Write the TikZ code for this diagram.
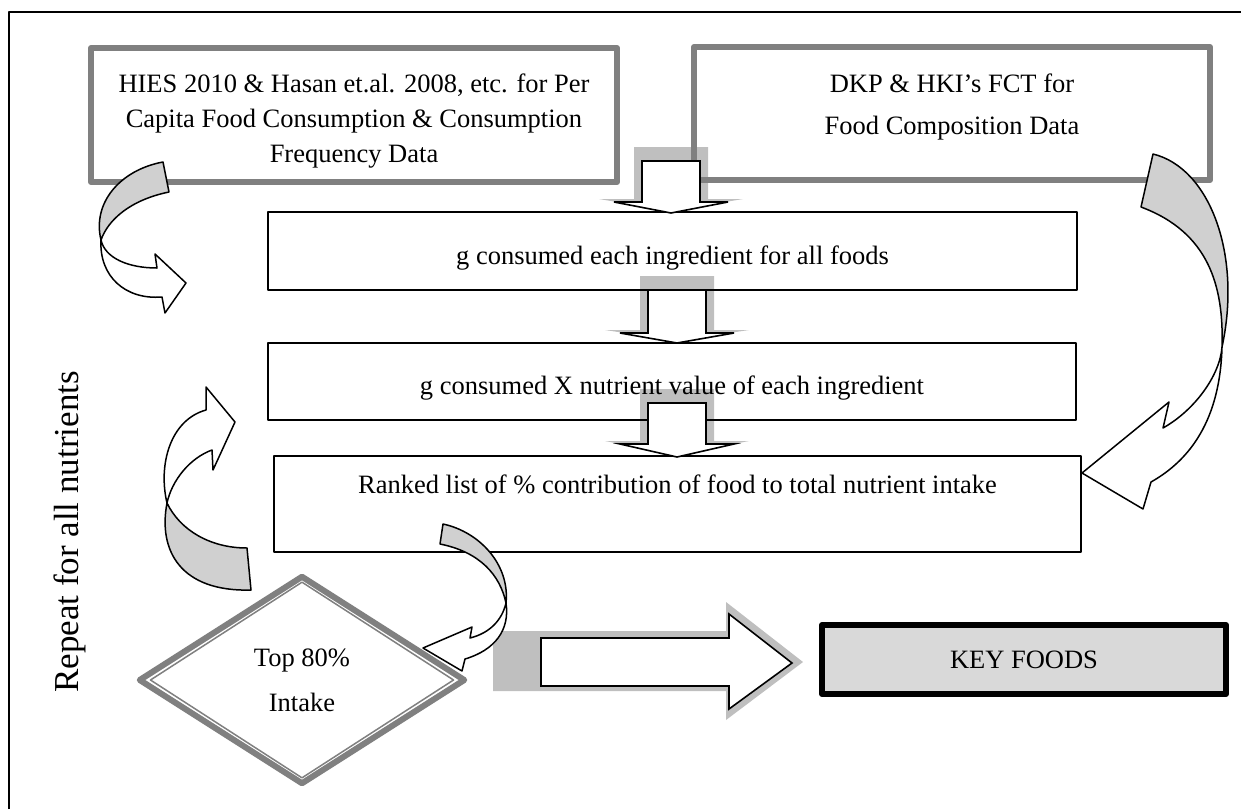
\documentclass[tikz,border=0pt]{standalone}
\usepackage{fontspec}
\setmainfont{Liberation Serif}
\usetikzlibrary{calc, shapes.geometric, backgrounds}
\definecolor{srcgray}{HTML}{808080}
\definecolor{shadegray}{HTML}{BFBFBF}
\definecolor{ribbongray}{HTML}{D0D0D0}
\definecolor{keyfill}{HTML}{D9D9D9}
\newcommand\txt{\fontsize{26.5}{35}\selectfont}
\tikzset{
  every picture/.style={line join=round},
  srcbox/.style={draw=srcgray, line width=6pt, align=center, inner sep=0pt, font=\txt},
  stepbox/.style={draw, line width=1.8pt, inner sep=0pt, font=\txt},
  decision/.style={diamond, draw=srcgray, line width=6pt, fill=white, align=center, inner sep=0pt,
    font=\fontsize{26.5}{45}\selectfont},
  keybox/.style={draw, line width=6pt, fill=keyfill, inner sep=0pt, font=\txt},
  shadefill/.style={fill=shadegray},
  blockarrow/.style={draw, line width=1.6pt, fill=white, line join=miter},
  ribbonback/.style={draw, line width=1.5pt, fill=ribbongray},
  ribbonfront/.style={draw, line width=1.5pt, fill=white},
}
% down block arrow: centre x, top of shaft, head base, tip
\newcommand\shadedown[4]{\fill[shadefill] (#1-37,#2-14) -- (#1+37,#2-14) -- (#1+37,#3-3) -- (#1+72,#3-3)
  -- (#1,#4-2) -- (#1-72,#3-3) -- (#1-37,#3-3) -- cycle;}
\newcommand\blockdown[4]{\draw[blockarrow] (#1-29,#2) -- (#1+29,#2) -- (#1+29,#3) -- (#1+57,#3)
  -- (#1,#4) -- (#1-57,#3) -- (#1-29,#3) -- cycle;}

\begin{document}
\begin{tikzpicture}[x=1pt, y=-1pt]
  \useasboundingbox (0,0) rectangle (1241,809);
  % ---------------- shadows
  \begin{scope}[on background layer]
    \shadedown{671}{161}{202}{213}
    \shadedown{677}{290}{333}{343}
    \shadedown{677}{403}{444}{457}
    \fill[shadefill] (493,631) -- (726,631) -- (726,602) -- (803,662) -- (726,720) -- (726,691) -- (493,691) -- cycle;
  \end{scope}
  % ---------------- frame
  \draw[line width=2pt] (9,809) -- (9,12) -- (1241,12);
  % ---------------- data sources and steps
  \node[srcbox, minimum width=526pt, minimum height=134pt, text height=100pt] (hies) at (354,115)
    {HIES 2010 \& Hasan et.al. 2008, etc. for Per\\Capita Food Consumption \& Consumption\\Frequency Data};
  \node[srcbox, minimum width=516pt, minimum height=133pt, text depth=18pt,
    font=\fontsize{26.5}{42}\selectfont] (dkp) at (952,113.5)
    {DKP \& HKI's FCT for\\Food Composition Data};
  \node[stepbox, minimum width=809pt, minimum height=78pt, text height=32pt] (cons) at (672.5,251)
    {g consumed each ingredient for all foods};
  \node[stepbox, minimum width=808pt, minimum height=77pt, text height=32pt] (nutr) at (672,381.5)
    {g consumed X nutrient value of each ingredient};
  \node[stepbox, minimum width=807pt, minimum height=96pt, text depth=40pt] (rank) at (677.5,504)
    {Ranked list of \% contribution of food to total nutrient intake};
  % ---------------- down arrows
  \blockdown{671}{161}{202}{213}
  \blockdown{677}{290}{333}{343}
  \blockdown{677}{403}{444}{457}
  % ---------------- curved arrows
  \draw[ribbonback] (163,162) .. controls (120,170) and (92,203) .. (101,240)
    .. controls (108,220) and (130,200) .. (169,192) -- cycle;
  \draw[ribbonfront] (101,240) .. controls (105,258) and (128,268) .. (157,268) -- (155,254) -- (186,283)
    -- (165,313) -- (162,297) .. controls (125,300) and (99,276) .. (101,240) -- cycle;
  \draw[ribbonback] (1153,154) .. controls (1210,168) and (1242,255) .. (1222,347)
    .. controls (1224,285) and (1208,232) .. (1141,207) -- cycle;
  \draw[ribbonfront] (1222,347) .. controls (1220,375) and (1195,410) .. (1163,428) -- (1169,402) -- (1082,473)
    -- (1143,509) -- (1151,482) .. controls (1190,460) and (1220,420) .. (1222,347) -- cycle;
  \draw[ribbonback] (247,548) .. controls (210,548) and (180,530) .. (167,503)
    .. controls (158,550) and (180,592) .. (251,590) -- cycle;
  \draw[ribbonfront] (167,503) .. controls (158,465) and (170,420) .. (206,410) -- (206,387) -- (235,422)
    -- (213,470) -- (212,450) .. controls (190,458) and (172,480) .. (167,503) -- cycle;
  \draw[ribbonback] (443,524) .. controls (480,532) and (510,565) .. (506,603)
    .. controls (500,575) and (480,552) .. (440,544) -- cycle;
  \draw[ribbonfront] (506,603) .. controls (502,620) and (490,633) .. (470,638) -- (472,627) -- (423,648)
    -- (462,671) -- (465,659) .. controls (495,650) and (510,630) .. (506,603) -- cycle;
  % ---------------- decision and result
  \node[decision, minimum width=327pt, minimum height=209pt] (top) at (302,680) {Top 80\%\\Intake};
  \draw[srcgray, line width=1.5pt] ($(top.center)!0.91!(top.north)$) -- ($(top.center)!0.91!(top.east)$)
    -- ($(top.center)!0.91!(top.south)$) -- ($(top.center)!0.91!(top.west)$) -- cycle;
  \draw[blockarrow] (541,638) -- (729,638) -- (729,614) -- (792,663) -- (729,709) -- (729,686) -- (541,686) -- cycle;
  \node[keybox, minimum width=404pt, minimum height=69pt] (key) at (1024,659.5) {KEY FOODS};
  \node[rotate=90, font=\fontsize{35}{40}\selectfont] (repeat) at (70,532) {Repeat for all nutrients};
\end{tikzpicture}
\end{document}
